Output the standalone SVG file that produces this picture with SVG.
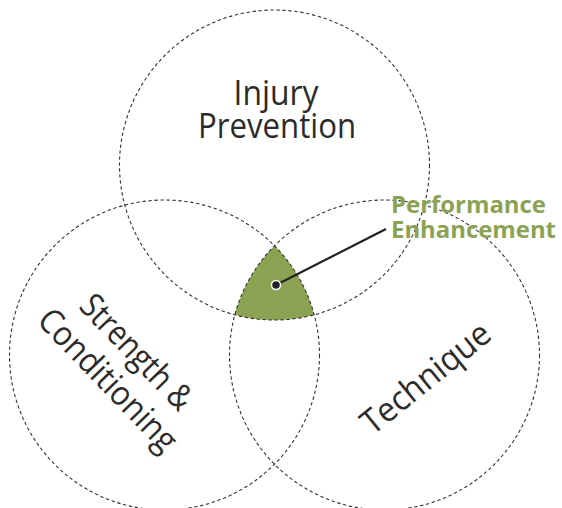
<svg xmlns="http://www.w3.org/2000/svg" width="562" height="508" viewBox="0 0 562 508">
<style>
.ring{fill:none;stroke:#333333;stroke-width:1.1;stroke-dasharray:3.4 2.6}
.lbl{font-family:"Open Sans","Noto Sans","Liberation Sans",sans-serif;font-size:34px;fill:#2b2b2b}
.hl{font-family:"Open Sans","Noto Sans","Liberation Sans",sans-serif;font-size:24px;font-weight:700;fill:#8ba253}
</style>
<rect width="562" height="508" fill="#ffffff"/>
<g id="overlap">
<path d="M274.5,245.8 A155,155 0 0,1 314.2,314.8 A155,155 0 0,1 234.8,314.8 A155,155 0 0,1 274.5,245.8 Z" fill="#8ba253"/>
</g>
<g id="injury-prevention">
<circle class="ring" cx="274.5" cy="165" r="155"/>
<text class="lbl" x="276" y="105" text-anchor="middle" textLength="85" lengthAdjust="spacingAndGlyphs">Injury</text>
<text class="lbl" x="277" y="138" text-anchor="middle" textLength="158" lengthAdjust="spacingAndGlyphs">Prevention</text>
</g>
<g id="strength-conditioning">
<circle class="ring" cx="164.5" cy="355" r="155"/>
<g transform="translate(114,374) rotate(46)">
<text class="lbl" x="0" y="-20" text-anchor="middle" textLength="146" lengthAdjust="spacingAndGlyphs">Strength &amp;</text>
<text class="lbl" x="0" y="20" text-anchor="middle" textLength="184" lengthAdjust="spacingAndGlyphs">Conditioning</text>
</g>
</g>
<g id="technique">
<circle class="ring" cx="384.5" cy="355" r="155"/>
<text class="lbl" transform="translate(433,387) rotate(-39)" x="0" y="0" text-anchor="middle" textLength="156" lengthAdjust="spacingAndGlyphs">Technique</text>
</g>
<g id="connectors">
<line x1="276" y1="285" x2="386" y2="229" stroke="#222" stroke-width="2.2"/>
<circle cx="276" cy="285" r="4.5" fill="#222" stroke="#fff" stroke-width="1.5"/>
</g>
<g id="performance-enhancement">
<text class="hl" x="391" y="213" textLength="155" lengthAdjust="spacingAndGlyphs">Performance</text>
<text class="hl" x="391" y="238" textLength="165" lengthAdjust="spacingAndGlyphs">Enhancement</text>
</g>
</svg>
